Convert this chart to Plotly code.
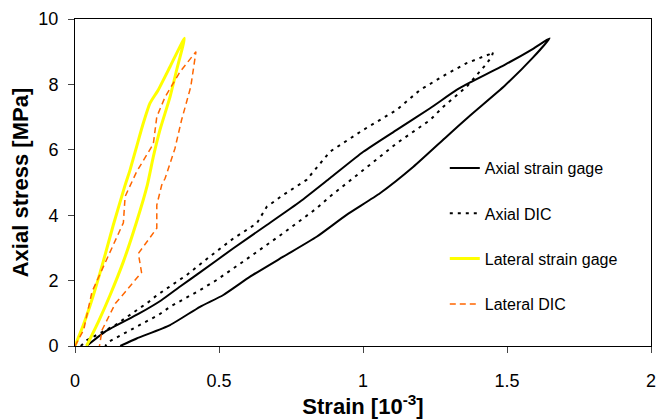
import plotly.graph_objects as go

# Lateral strain gage (loading then unloading)
LAT_SG_X = [0, 0.029, 0.064, 0.098, 0.133, 0.174, 0.191, 0.214, 0.237, 0.260, 0.289, 0.330, 0.380,
            0.353, 0.330, 0.295, 0.272, 0.251, 0.214, 0.168, 0.122, 0.081, 0.040]
LAT_SG_Y = [0, 0.64, 1.56, 2.58, 3.70, 4.92, 5.38, 6.10, 6.81, 7.42, 7.83, 8.54, 9.41,
            8.44, 7.62, 6.61, 5.79, 4.92, 3.80, 2.58, 1.56, 0.74, 0]

# Lateral DIC
LAT_DIC_X = [0, 0.030, 0.059, 0.093, 0.135, 0.168, 0.174, 0.214, 0.272, 0.284, 0.313, 0.365, 0.420,
             0.402, 0.370, 0.347, 0.313, 0.301, 0.284, 0.284, 0.220, 0.231, 0.175, 0.140, 0.094, 0.088, 0.085]
LAT_DIC_Y = [0, 0.49, 1.66, 2.32, 3.14, 3.77, 4.57, 5.33, 6.18, 7.01, 7.62, 8.39, 9.00,
             7.93, 6.91, 6.04, 5.13, 4.92, 4.31, 3.60, 2.83, 2.25, 1.66, 1.30, 0.49, 0.08, 0]

# Axial strain gage
AX_SG_X = [0.040, 0.105, 0.220, 0.300, 0.365, 0.434, 0.550, 0.666, 0.781, 0.885, 1.001, 1.117, 1.233,
           1.325, 1.372, 1.492, 1.589, 1.648,
           1.589, 1.492, 1.372, 1.290, 1.175, 1.059, 0.943, 0.839, 0.723, 0.608, 0.515, 0.434,
           0.330, 0.214, 0.157]
AX_SG_Y = [0, 0.44, 0.98, 1.40, 1.82, 2.25, 2.99, 3.70, 4.41, 5.13, 5.94, 6.61, 7.27,
           7.83, 8.06, 8.60, 9.08, 9.41,
           8.81, 7.96, 7.05, 6.40, 5.48, 4.67, 4.01, 3.34, 2.73, 2.12, 1.56, 1.20,
           0.64, 0.23, 0]

# Axial DIC
AX_DIC_X = [0.020, 0.042, 0.140, 0.256, 0.284, 0.388, 0.463, 0.550, 0.631, 0.666, 0.723, 0.804, 0.885,
            1.001, 1.117, 1.198, 1.285, 1.360, 1.438, 1.452,
            1.447, 1.426, 1.360, 1.279, 1.233, 1.117, 1.001, 0.885, 0.839, 0.723, 0.608, 0.492,
            0.434, 0.330, 0.290, 0.209, 0.117, 0.105]
AX_DIC_Y = [0, 0.18, 0.64, 1.35, 1.55, 2.17, 2.70, 3.29, 3.75, 4.26, 4.62, 5.08, 5.94,
            6.61, 7.22, 7.83, 8.29, 8.65, 8.92, 9.00,
            8.85, 8.60, 7.93, 7.32, 6.91, 6.20, 5.38, 4.57, 4.21, 3.45, 2.73, 2.02,
            1.71, 1.20, 0.95, 0.56, 0.13, 0]

X_TICKS = [0, 0.5, 1, 1.5, 2]
X_TICK_LABELS = ["0", "0.5", "1", "1.5", "2"]
Y_TICKS = [0, 2, 4, 6, 8, 10]

_FONT = "Arial, Liberation Sans, sans-serif"

fig = go.Figure()
for x, y, name, color, width, dash, shape in (
    (AX_SG_X, AX_SG_Y, "Axial strain gage", "#000000", 2, "solid", "spline"),
    (AX_DIC_X, AX_DIC_Y, "Axial DIC", "#000000", 2, "3px,5px", "linear"),
    (LAT_SG_X, LAT_SG_Y, "Lateral strain gage", "#ffff00", 3, "solid", "spline"),
    (LAT_DIC_X, LAT_DIC_Y, "Lateral DIC", "#ff6600", 1.5, "6px,4px", "linear"),
):
    fig.add_trace(
        go.Scatter(
            x=x,
            y=y,
            mode="lines",
            name=name,
            legendgroup=name,
            line={"color": color, "width": width, "dash": dash, "shape": shape, "smoothing": 0.5},
        )
    )

# the page body adds an 8px offset, so the figure is 8px smaller than the window
fig.update_layout(
    width=657,
    height=411,
    paper_bgcolor="#ffffff",
    plot_bgcolor="#ffffff",
    font={"family": _FONT, "color": "#000000", "size": 18},
    margin={"l": 67, "r": 14, "t": 11, "b": 73},
    legend={
        "x": 0.642,
        "y": 0.596,
        "xanchor": "left",
        "yanchor": "top",
        "traceorder": "grouped",
        "tracegroupgap": 21.5,
        "font": {"size": 16},
        "bgcolor": "rgba(0,0,0,0)",
    },
)
fig.update_xaxes(
    range=[0, 2],
    tickvals=X_TICKS,
    ticktext=X_TICK_LABELS,
    ticks="outside",
    ticklen=6,
    ticklabelstandoff=12,
    showgrid=False,
    zeroline=False,
    showline=True,
    linecolor="#000000",
    linewidth=1,
    mirror=True,
    automargin=False,
    title={"text": "<b>Strain [10<sup>-3</sup>]</b>", "font": {"size": 22}, "standoff": 2},
)
fig.update_yaxes(
    range=[0, 10],
    tickvals=Y_TICKS,
    ticks="outside",
    ticklen=6,
    ticklabelstandoff=6,
    showgrid=False,
    zeroline=False,
    showline=True,
    linecolor="#000000",
    linewidth=1,
    mirror=True,
    automargin=False,
    title={"text": "<b>Axial stress [MPa]</b>", "font": {"size": 22}, "standoff": 6},
)

fig.write_html("out.html")
